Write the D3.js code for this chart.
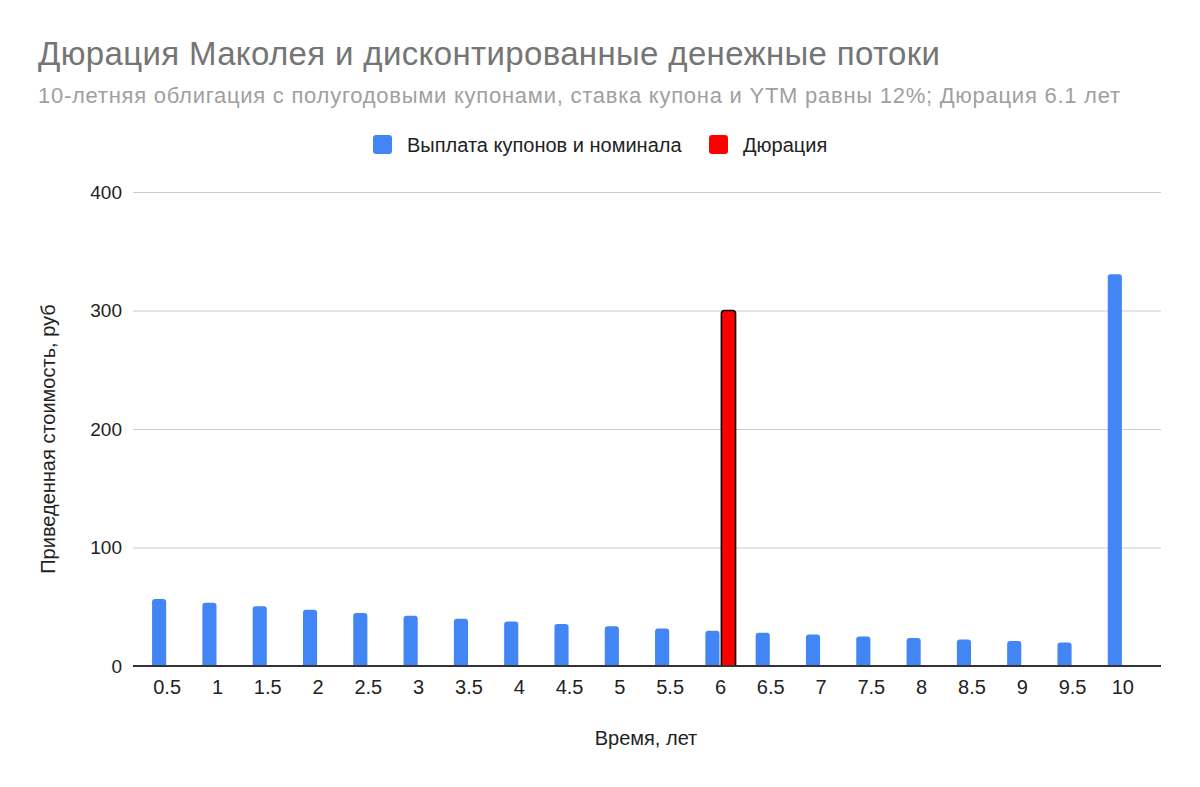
<!DOCTYPE html>
<html><head><meta charset="utf-8">
<script src="https://cdn.jsdelivr.net/npm/d3@7"></script>
<style>body{margin:0;background:#fff;} svg{display:block;font-family:"Liberation Sans", Arial, sans-serif;}</style>
</head><body>
<svg id="c" width="1200" height="787"></svg>
<script>
const categories = ["0.5","1","1.5","2","2.5","3","3.5","4","4.5","5","5.5","6","6.5","7","7.5","8","8.5","9","9.5","10"];
const payments = [56.6,53.4,50.4,47.5,44.8,42.3,39.9,37.6,35.5,33.5,31.6,29.8,28.1,26.5,25.0,23.6,22.3,21.0,19.8,330.5];
const duration = [null,null,null,null,null,null,null,null,null,null,null,300,null,null,null,null,null,null,null,null];
const yTicks = [0,100,200,300,400];
const seriesNames = ["Выплата купонов и номинала","Дюрация"];
const titleText = "Дюрация Маколея и дисконтированные денежные потоки";
const subtitleText = "10-летняя облигация с полугодовыми купонами, ставка купона и YTM равны 12%; Дюрация 6.1 лет";
const xTitle = "Время, лет";
const yTitle = "Приведенная стоимость, руб";

const FF = '"Liberation Sans", Arial, sans-serif';
const svg = d3.select("#c");
const gridL = 133, gridR = 1161;
const x0 = d3.scaleBand().domain(categories).range([142, 1148]).paddingInner(0.4).paddingOuter(0.2);
const x1 = d3.scaleBand().domain([0,1]).range([0, x0.bandwidth()]).paddingInner(0.12);
const y = d3.scaleLinear().domain([0,400]).range([666,192]);

// titles
svg.append("text").attr("x",38).attr("y",65).attr("font-size",33).attr("fill","#757575")
  .attr("textLength",902).attr("lengthAdjust","spacing").text(titleText);
svg.append("text").attr("x",38).attr("y",103).attr("font-size",22).attr("fill","#a0a0a0")
  .attr("textLength",1082).attr("lengthAdjust","spacing").text(subtitleText);

// legend
const colors = ["#4285F4","#FF0000"];
const lg = svg.append("g");
const legX = [373, 709];
seriesNames.forEach((n,i)=>{
  lg.append("rect").attr("x",legX[i]).attr("y",135).attr("width",19).attr("height",19).attr("rx",3).attr("fill",colors[i]);
  lg.append("text").attr("x",legX[i]+34).attr("y",151.5).attr("font-size",20).attr("fill","#222").text(n);
});

// grid
const yAxis = d3.axisLeft(y).tickValues(yTicks).tickSize(-(gridR-gridL)).tickPadding(11);
const ga = svg.append("g").attr("transform",`translate(${gridL},0)`).call(yAxis);
ga.select(".domain").remove();
ga.selectAll(".tick line").attr("stroke","#cccccc").attr("stroke-width",1);
ga.selectAll(".tick text").attr("font-size",19).attr("fill","#222").attr("font-family",FF);

// bars
const rounded = (xp,yp,w,h,r) => {
  r = Math.min(r, h);
  return `M${xp},${yp+h}V${yp+r}Q${xp},${yp} ${xp+r},${yp}H${xp+w-r}Q${xp+w},${yp} ${xp+w},${yp+r}V${yp+h}Z`;
};
svg.append("g").selectAll("path").data(payments).join("path")
  .attr("d",(d,i)=>rounded(x0(categories[i])+x1(0), y(d), x1.bandwidth(), y(0)-y(d), 3))
  .attr("fill",colors[0]);
svg.append("g").selectAll("path").data(duration.map((d,i)=>({d,i})).filter(o=>o.d!=null)).join("path")
  .attr("d",o=>rounded(x0(categories[o.i])+x1(1), y(o.d), x1.bandwidth(), y(0)-y(o.d), 3))
  .attr("fill",colors[1]).attr("stroke","#000").attr("stroke-width",1.6);

// baseline
svg.append("line").attr("x1",gridL).attr("x2",gridR).attr("y1",y(0)).attr("y2",y(0)).attr("stroke","#333").attr("stroke-width",2);

// x axis labels
const xAxis = d3.axisBottom(x0).tickSize(0).tickPadding(14);
const gx = svg.append("g").attr("transform",`translate(0,${y(0)})`).call(xAxis);
gx.select(".domain").remove();
gx.selectAll(".tick text").attr("font-size",20).attr("fill","#222").attr("font-family",FF);

// axis titles
svg.append("text").attr("x",646).attr("y",745).attr("text-anchor","middle").attr("font-size",20).attr("fill","#222").text(xTitle);
svg.append("text").attr("transform","translate(55,439) rotate(-90)").attr("text-anchor","middle").attr("font-size",20).attr("fill","#222").text(yTitle);
</script>
</body></html>
